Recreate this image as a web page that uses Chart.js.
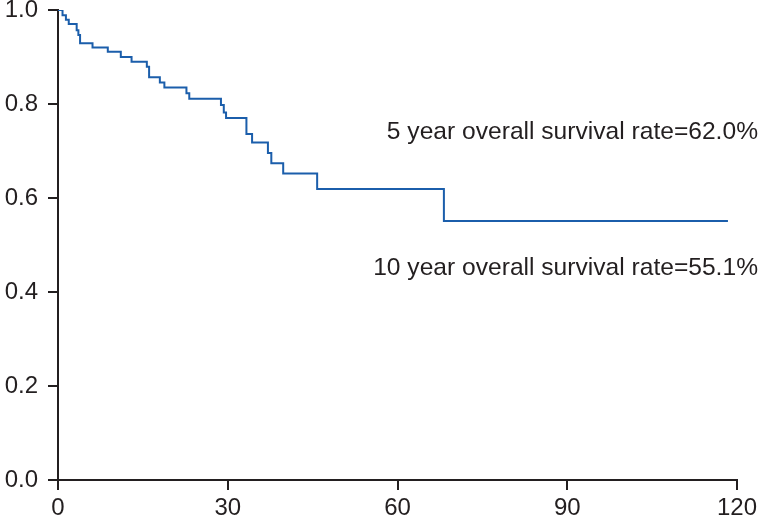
<!DOCTYPE html>
<html>
<head>
<meta charset="utf-8">
<script src="https://cdn.jsdelivr.net/npm/chart.js@4/dist/chart.umd.min.js"></script>
<style>
    html, body { margin: 0; padding: 0; background: #fff; }
    #wrap { width: 761px; height: 522px; }
</style>
</head>
<body>
<div id="wrap"><canvas id="myChart"></canvas></div>
<script>
// Kaplan-Meier survival steps (months, survival after drop)
const months = [0, 0.8, 1.4, 1.9, 3.3, 3.6, 3.9, 6.1, 8.8, 11.1, 13.0, 15.7, 16.1, 18.0, 18.8,
    22.7, 23.2, 28.8, 29.3, 29.7, 33.3, 34.3, 37.1, 37.7, 39.8, 45.8, 68.2, 118.4];
const survival = [1.0, 0.989, 0.979, 0.970, 0.957, 0.947, 0.929, 0.920, 0.911, 0.900, 0.890, 0.879, 0.857, 0.846, 0.835,
    0.823, 0.811, 0.798, 0.782, 0.770, 0.736, 0.718, 0.696, 0.674, 0.652, 0.619, 0.551, 0.551];
const xTicks = [0, 30, 60, 90, 120];
const yTicks = [0, 0.2, 0.4, 0.6, 0.8, 1.0];
const notes = ['5 year overall survival rate=62.0%', '10 year overall survival rate=55.1%'];
const noteLevels = [0.740, 0.451];

const ink = '#231f20';
const family = "'Liberation Sans', Arial, sans-serif";
const font = { family: family, size: 24 };

const points = months.map((m, i) => ({ x: m, y: survival[i] }));

const notesPlugin = {
    id: 'notes',
    afterDraw(chart) {
        const ctx = chart.ctx;
        const y = chart.scales.y;
        ctx.save();
        ctx.font = `24.6px ${family}`;
        ctx.fillStyle = ink;
        ctx.textAlign = 'right';
        ctx.textBaseline = 'middle';
        notes.forEach((t, i) => {
            ctx.fillText(t, chart.width - 3, y.getPixelForValue(noteLevels[i]));
        });
        ctx.restore();
    }
};

function noPad(scale) {
    scale.paddingTop = 0;
    scale.paddingBottom = 0;
    scale.paddingLeft = 0;
    scale.paddingRight = 0;
}

const ctx = document.getElementById('myChart').getContext('2d');
new Chart(ctx, {
    type: 'line',
    data: {
        datasets: [{
            data: points,
            stepped: 'before',
            borderColor: '#1b5eab',
            borderWidth: 2,
            pointRadius: 0,
            fill: false,
        }]
    },
    options: {
        responsive: true,
        maintainAspectRatio: false,
        animation: false,
        layout: { padding: { top: 10, right: 24, left: 0, bottom: 0 } },
        scales: {
            x: {
                type: 'linear',
                min: 0,
                max: 120,
                afterBuildTicks: (s) => { s.ticks = xTicks.map(v => ({ value: v })); },
                afterFit: (s) => { s.height = 42; noPad(s); },
                ticks: { color: ink, font: font, padding: 4, maxRotation: 0 },
                grid: { drawOnChartArea: false, tickLength: 10, color: ink, lineWidth: 2 },
                border: { color: ink, width: 2 },
            },
            y: {
                min: 0,
                max: 1,
                afterBuildTicks: (s) => { s.ticks = yTicks.map(v => ({ value: v })); },
                afterFit: (s) => { s.width = 58; noPad(s); },
                ticks: { color: ink, font: font, padding: 10, callback: (v) => v.toFixed(1) },
                grid: { drawOnChartArea: false, tickLength: 10, color: ink, lineWidth: 2 },
                border: { color: ink, width: 2 },
            }
        },
        plugins: {
            legend: { display: false },
            tooltip: { enabled: false },
        }
    },
    plugins: [notesPlugin]
});
</script>
</body>
</html>
